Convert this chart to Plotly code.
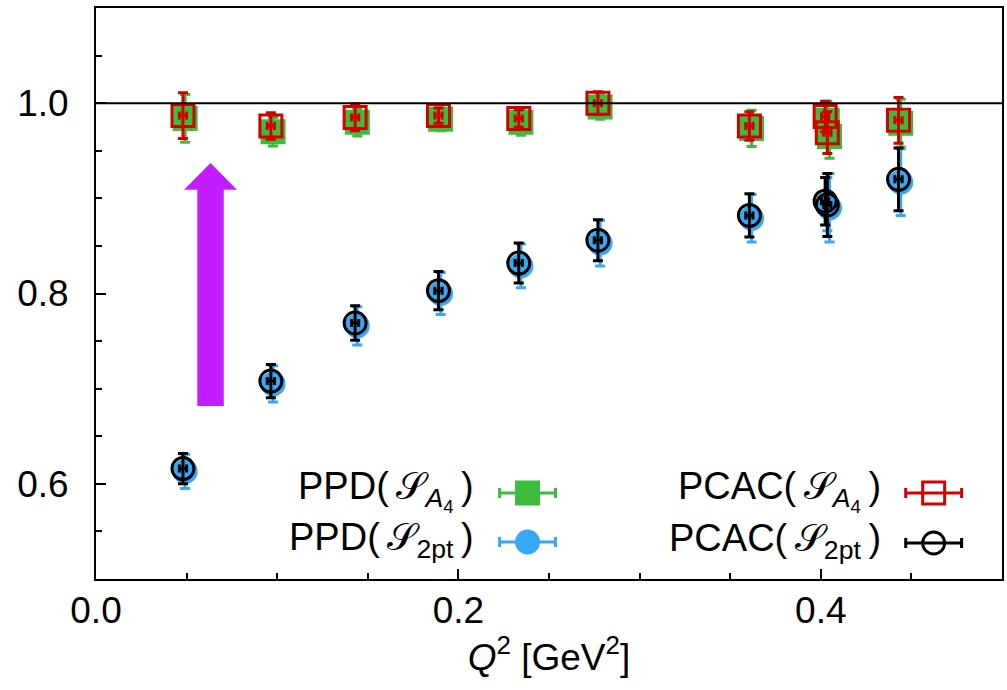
import plotly.graph_objects as go

# ---------------- data ----------------
q2_pcac = [0.0480, 0.0965, 0.1430, 0.1890, 0.2333, 0.2770, 0.3606, 0.4024, 0.4036, 0.4429]
q2_ppd = [0.0492, 0.0977, 0.1442, 0.1902, 0.2345, 0.2782, 0.3618, 0.4036, 0.4048, 0.4441]
q2_err = [0.0020, 0.0020, 0.0020, 0.0020, 0.0020, 0.0020, 0.0020, 0.0020, 0.0020, 0.0020]

pcac_2pt = [0.616, 0.708, 0.769, 0.803, 0.832, 0.856, 0.882, 0.897, 0.893, 0.920]
pcac_2pt_err = [0.016, 0.0175, 0.018, 0.020, 0.021, 0.0215, 0.0227, 0.025, 0.033, 0.033]

ppd_2pt = [0.613, 0.705, 0.766, 0.800, 0.829, 0.853, 0.879, 0.894, 0.890, 0.917]
ppd_2pt_err = [0.018, 0.019, 0.020, 0.022, 0.023, 0.024, 0.025, 0.028, 0.036, 0.035]

pcac_a4 = [0.987, 0.976, 0.985, 0.987, 0.984, 1.000, 0.976, 0.986, 0.969, 0.982]
pcac_a4_err = [0.024, 0.014, 0.014, 0.008, 0.009, 0.012, 0.015, 0.016, 0.022, 0.024]

ppd_a4 = [0.984, 0.970, 0.980, 0.983, 0.980, 0.996, 0.9735, 0.982, 0.965, 0.979]
ppd_a4_err = [0.025, 0.015, 0.0145, 0.012, 0.0137, 0.013, 0.019, 0.020, 0.023, 0.025]

legend_labels = ["PPD(\u2009𝒮<sub><i>A</i><sub>4</sub></sub>\u2009)",
                 "PPD(\u2009𝒮<sub>2pt</sub>\u2009)",
                 "PCAC(\u2009𝒮<sub><i>A</i><sub>4</sub></sub>\u2009)",
                 "PCAC(\u2009𝒮<sub>2pt</sub>\u2009)"]
x_ticks = [0.0, 0.2, 0.4]
y_ticks = [0.6, 0.8, 1.0]

# ---------------- styles ----------------
GREEN = "#3cbc3c"
BLUE = "#37a8f5"
RED = "#d40000"
BLACK = "#000000"
PURPLE = "#c21cff"
FONT = "Liberation Sans, DejaVu Sans, Arial, sans-serif"

# plot-area pixel box (used for overlay axis holding legend keys)
PX_L, PX_R, PX_T, PX_B = 96, 1004, 8, 579

fig = go.Figure()


def add_series(x, y, yerr, color, symbol, name):
    fig.add_trace(go.Scatter(
        x=x, y=y, mode="markers", name=name, showlegend=False,
        marker=dict(symbol=symbol, size=22, color=color,
                    line=dict(width=3, color=color)),
        error_y=dict(type="data", array=yerr, color=color, thickness=3, width=5),
        error_x=dict(type="data", array=q2_err, color=color, thickness=3, width=4),
    ))


add_series(q2_ppd, ppd_a4, ppd_a4_err, GREEN, "square", legend_labels[0])
add_series(q2_ppd, ppd_2pt, ppd_2pt_err, BLUE, "circle", legend_labels[1])
add_series(q2_pcac, pcac_a4, pcac_a4_err, RED, "square-open", legend_labels[2])
add_series(q2_pcac, pcac_2pt, pcac_2pt_err, BLACK, "circle-open", legend_labels[3])

# ---------------- custom legend (pixel overlay axes) ----------------
key_specs = [
    # (text right edge px, key centre x px, centre y px, color, symbol)
    (477, 528.5, 493, GREEN, "square"),
    (477, 528.5, 542, BLUE, "circle"),
    (885, 935.5, 493, RED, "square-open"),
    (885, 935.5, 543, BLACK, "circle-open"),
]
for label, (tx, kx, ky, col, sym) in zip(legend_labels, key_specs):
    fig.add_trace(go.Scatter(
        x=[kx], y=[ky], xaxis="x2", yaxis="y2", mode="markers", showlegend=False,
        hoverinfo="skip",
        marker=dict(symbol=sym, size=22, color=col, line=dict(width=3, color=col)),
        error_x=dict(type="constant", value=28, color=col, thickness=3, width=5),
    ))
    fig.add_annotation(x=tx, y=ky - 2, xref="x2", yref="y2", text=label,
                       showarrow=False, xanchor="right", yanchor="middle",
                       font=dict(family=FONT, size=38, color="black"))

# ---------------- arrow ----------------
arrow_x = 0.0632
arrow_y0, arrow_head_base, arrow_tip = 0.6817, 0.909, 0.937
shaft_half, head_half = 0.0073, 0.0146
fig.add_shape(type="rect", xref="x", yref="y",
              x0=arrow_x - shaft_half, x1=arrow_x + shaft_half,
              y0=arrow_y0, y1=arrow_head_base + 0.002,
              fillcolor=PURPLE, line=dict(width=0))
fig.add_shape(type="path", xref="x", yref="y",
              path=f"M {arrow_x - head_half},{arrow_head_base} L {arrow_x + head_half},{arrow_head_base} "
                   f"L {arrow_x},{arrow_tip} Z",
              fillcolor=PURPLE, line=dict(width=0))

# reference line at 1
fig.add_shape(type="line", xref="paper", yref="y", x0=0, x1=1, y0=1.0, y1=1.0,
              line=dict(color="black", width=2), layer="above")

axis_common = dict(showline=True, linecolor="black", linewidth=2, mirror=True,
                   ticks="inside", ticklen=10, tickwidth=2, tickcolor="black",
                   showgrid=False, zeroline=False,
                   tickfont=dict(family=FONT, size=37, color="black"),
                   minor=dict(ticks="inside", ticklen=6, tickwidth=1.5, tickcolor="black",
                              showgrid=False))

fig.update_layout(
    width=1007, height=690,
    margin=dict(l=PX_L, r=1007 - PX_R, t=PX_T, b=690 - PX_B),
    paper_bgcolor="white", plot_bgcolor="white",
    showlegend=False,
    xaxis=dict(range=[0, 0.5], tickvals=x_ticks, tickformat=".1f",
               minor_dtick=0.05, ticklabelstandoff=-2,
               title=dict(text="<i>Q</i><sup>2</sup> [GeV<sup>2</sup>]",
                          font=dict(family=FONT, size=37, color="black"), standoff=8),
               **axis_common),
    yaxis=dict(range=[0.5, 1.1], tickvals=y_ticks, tickformat=".1f",
               minor_dtick=0.05, ticklabelstandoff=18, **axis_common),
    xaxis2=dict(overlaying="x", range=[PX_L, PX_R], visible=False, fixedrange=True),
    yaxis2=dict(overlaying="y", range=[PX_B, PX_T], visible=False, fixedrange=True),
)

fig.write_html("out.html")
